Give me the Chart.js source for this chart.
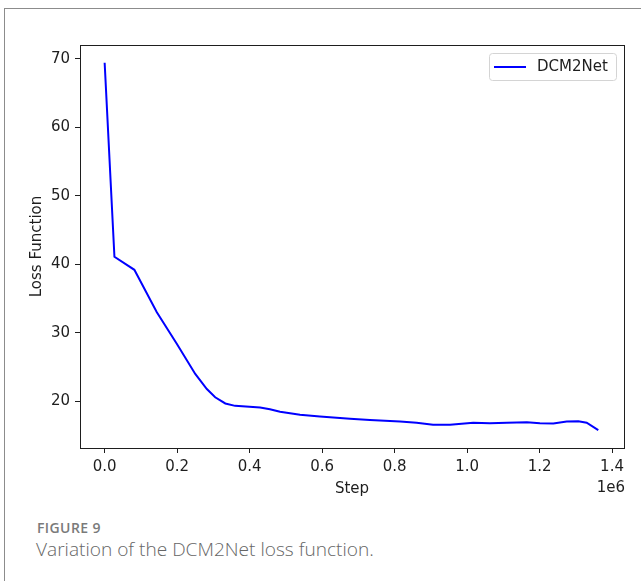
<!DOCTYPE html>
<html>
<head>
<meta charset="utf-8">
<script src="https://cdn.jsdelivr.net/npm/chart.js@4.4.1/dist/chart.umd.min.js"></script>
<style>
  body { margin: 0; background: #fff; width: 641px; height: 581px; overflow: hidden; position: relative; }
  #frame { position: absolute; left: 4px; top: 8px; width: 640px; height: 580px; border-top: 1px solid #8c8c8c; border-left: 1px solid #8c8c8c; }
  #chartBox { position: absolute; left: 0; top: 0; width: 641px; height: 505px; }
  .fig-label { position: absolute; left: 37px; top: 518px; font: 600 14px "Open Sans"; color: #7a7a7a; letter-spacing: 0.4px; }
  .fig-caption { position: absolute; left: 36px; top: 536px; font: 300 19.1px "Open Sans"; color: #666; }
</style>
</head>
<body>
<div id="frame"></div>
<div id="chartBox"><canvas id="lossChart" width="641" height="505"></canvas></div>
<div class="fig-label">FIGURE 9</div>
<div class="fig-caption">Variation of the DCM2Net loss function.</div>

<script>
// ====== Datos ======
const seriesName = 'DCM2Net';
const steps = [0, 27000, 82000, 144000, 199000, 250000, 282000, 305000, 333000, 360000,
  429000, 456000, 484000, 539000, 594000, 677000, 732000, 815000, 861000, 906000,
  953000, 1017000, 1063000, 1110000, 1165000, 1201000, 1238000, 1275000, 1307000, 1330000,
  1362000];
const lossValues = [69.4, 41.1, 39.2, 33.0, 28.4, 24.0, 21.8, 20.6, 19.7, 19.35,
  19.1, 18.85, 18.5, 18.05, 17.8, 17.45, 17.27, 17.07, 16.9, 16.6,
  16.6, 16.87, 16.8, 16.87, 16.97, 16.82, 16.77, 17.07, 17.1, 16.9,
  15.8];
const xTicks = [0, 200000, 400000, 600000, 800000, 1000000, 1200000, 1400000];
const yTicks = [20, 30, 40, 50, 60, 70];

const ink = '#1e1e1e';
const mplFont = { family: 'DejaVu Sans', size: 15 };

// ====== Marco del gráfico + leyenda + "1e6" ======
const frameAndLegend = {
  id: 'frameAndLegend',
  afterDraw(chart) {
    const { ctx, chartArea: a } = chart;
    ctx.save();
    ctx.strokeStyle = ink;
    ctx.lineWidth = 1;
    ctx.strokeRect(Math.round(a.left) + 0.5, Math.round(a.top) + 0.5,
      Math.round(a.right - a.left), Math.round(a.bottom - a.top));

    // leyenda
    const bx = a.right - 135, by = a.top + 8, bw = 127, bh = 27;
    ctx.beginPath();
    ctx.roundRect(bx + 0.5, by + 0.5, bw, bh, 3);
    ctx.fillStyle = 'rgba(255,255,255,0.8)';
    ctx.fill();
    ctx.strokeStyle = '#d4d4d4';
    ctx.stroke();
    ctx.beginPath();
    ctx.moveTo(bx + 5, by + 14);
    ctx.lineTo(bx + 37, by + 14);
    ctx.strokeStyle = '#0000ff';
    ctx.lineWidth = 2;
    ctx.stroke();
    ctx.fillStyle = ink;
    ctx.font = '15px "DejaVu Sans"';
    ctx.textBaseline = 'middle';
    ctx.textAlign = 'left';
    ctx.fillText(seriesName, bx + 48, by + 14);

    // multiplicador del eje x
    ctx.textAlign = 'right';
    ctx.fillText('1e6', a.right + 1, a.bottom + 40);
    ctx.restore();
  }
};

document.addEventListener('DOMContentLoaded', () => {
  const ctx = document.getElementById('lossChart').getContext('2d');
  new Chart(ctx, {
    type: 'line',
    data: {
      datasets: [{
        label: seriesName,
        data: steps.map((s, i) => ({ x: s, y: lossValues[i] })),
        borderColor: '#0000ff',
        borderWidth: 2,
        pointRadius: 0,
        tension: 0,
        fill: false
      }]
    },
    options: {
      responsive: false,
      animation: false,
      devicePixelRatio: 1,
      layout: { padding: { left: 0, top: 45, right: 17, bottom: 0 } },
      plugins: {
        legend: { display: false },
        tooltip: { enabled: false }
      },
      scales: {
        x: {
          type: 'linear',
          min: -68000,
          max: 1433000,
          afterBuildTicks: (s) => { s.ticks = xTicks.map(v => ({ value: v })); },
          afterFit: (s) => { s.height = 57; },
          ticks: {
            font: mplFont,
            color: ink,
            padding: 5,
            maxRotation: 0,
            callback: (v) => (v / 1e6).toFixed(1)
          },
          grid: { drawOnChartArea: false, drawTicks: true, tickLength: 5, tickColor: ink, tickWidth: 1 },
          border: { display: false },
          title: { display: true, text: 'Step', font: mplFont, color: ink, padding: { top: 0, bottom: 7 } }
        },
        y: {
          min: 13.2,
          max: 72.0,
          afterBuildTicks: (s) => { s.ticks = yTicks.map(v => ({ value: v })); },
          afterFit: (s) => { s.width = 80; },
          ticks: { font: mplFont, color: ink, padding: 5 },
          grid: { drawOnChartArea: false, drawTicks: true, tickLength: 5, tickColor: ink, tickWidth: 1 },
          border: { display: false },
          title: { display: true, text: 'Loss Function', font: mplFont, color: ink, padding: { top: 28, bottom: 0 } }
        }
      }
    },
    plugins: [frameAndLegend]
  });
});
</script>
</body>
</html>
